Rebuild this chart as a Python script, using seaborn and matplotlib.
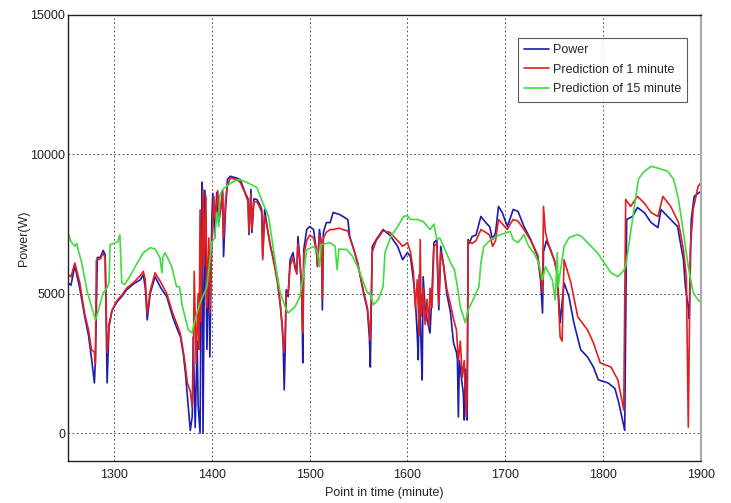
import matplotlib
matplotlib.use("Agg")
import matplotlib.pyplot as plt
import pandas as pd
import seaborn as sns

# values
power_t = [1253, 1256, 1260, 1265, 1270, 1274, 1277, 1280, 1281, 1283, 1286, 1289, 1291, 1293, 1295,
           1298, 1303, 1308, 1313, 1320, 1327, 1330, 1332, 1334, 1337, 1342, 1348, 1354, 1360, 1365,
           1368, 1371, 1373, 1376, 1378, 1380, 1381, 1383, 1385, 1386, 1388, 1389, 1390, 1391, 1393,
           1395, 1397, 1398, 1400, 1401, 1403, 1405, 1407, 1409, 1411, 1412, 1414, 1416, 1419, 1425,
           1429, 1434, 1437, 1438, 1440, 1441, 1443, 1446, 1449, 1451, 1452, 1454, 1457, 1460, 1464,
           1467, 1470, 1472, 1473, 1474, 1475, 1476, 1478, 1480, 1483, 1485, 1487, 1488, 1490, 1492,
           1493, 1494, 1497, 1500, 1504, 1507, 1508, 1510, 1512, 1513, 1514, 1517, 1521, 1524, 1530,
           1534, 1539, 1541, 1545, 1549, 1555, 1559, 1561, 1562, 1564, 1568, 1575, 1582, 1590, 1595,
           1600, 1603, 1606, 1608, 1610, 1611, 1612, 1614, 1615, 1616, 1618, 1620, 1623, 1625, 1627,
           1630, 1631, 1632, 1634, 1637, 1640, 1644, 1647, 1650, 1651, 1652, 1653, 1655, 1657, 1658,
           1659, 1660, 1661, 1662, 1663, 1666, 1670, 1675, 1680, 1684, 1687, 1690, 1693, 1697, 1702,
           1705, 1708, 1713, 1719, 1726, 1733, 1736, 1738, 1739, 1742, 1746, 1750, 1753, 1756, 1760,
           1765, 1770, 1777, 1784, 1790, 1795, 1805, 1812, 1816, 1822, 1824, 1830, 1835, 1842, 1849,
           1856, 1859, 1866, 1876, 1882, 1884, 1887, 1888, 1890, 1893, 1897, 1900]
power_w = [5400, 5300, 6000, 5200, 4200, 3500, 2700, 1800, 2600, 6300, 6300, 6550, 6400, 1800, 3900,
           4400, 4700, 4900, 5140, 5350, 5500, 5680, 5200, 4060, 5000, 5610, 5200, 4890, 4170, 3700,
           3450, 2800, 2160, 935, 100, 600, 3450, 200, 3300, 1000, 0, 5000, 9000, 0, 8700,
           3000, 6500, 2730, 7660, 8600, 7000, 8630, 7560, 8000, 8700, 6330, 8000, 9100, 9210, 9150,
           9100, 8630, 8400, 7120, 8740, 7190, 8400, 8380, 8200, 8020, 6330, 8020, 7300, 6690, 6100,
           5610, 4600, 3810, 3090, 1550, 3000, 5140, 4890, 6220, 6470, 6000, 5860, 7050, 6220, 5000,
           2520, 6580, 7300, 7410, 7300, 6500, 5970, 7300, 6800, 4420, 7190, 7550, 7550, 7910, 7850,
           7770, 7660, 7050, 6600, 6110, 5030, 4420, 3450, 2370, 6690, 6940, 7300, 7100, 6690, 6220,
           6470, 6330, 5500, 4780, 3500, 2630, 5680, 3000, 1910, 5610, 4500, 4060, 3590, 5000, 6830,
           6940, 5500, 4420, 6700, 5970, 5030, 4310, 3240, 2900, 2630, 580, 2600, 2000, 1440, 470,
           2300, 1800, 470, 6940, 6800, 7050, 7100, 7770, 7550, 7400, 6940, 7190, 8130, 7900, 7410,
           7700, 8020, 7950, 7410, 6940, 6330, 5500, 4310, 6500, 6900, 6580, 6200, 5750, 3960, 5390,
           4900, 3960, 2990, 2730, 2370, 1910, 1800, 1600, 1080, 100, 7660, 7770, 8090, 7910, 7550,
           7370, 8020, 7770, 7410, 6220, 5250, 4500, 4100, 7660, 8490, 8600, 8670]

pred1_t = [1253, 1256, 1260, 1265, 1270, 1274, 1277, 1280, 1281, 1282, 1286, 1289, 1291, 1293, 1295,
           1298, 1303, 1308, 1313, 1320, 1327, 1330, 1332, 1334, 1337, 1342, 1348, 1354, 1360, 1365,
           1368, 1371, 1373, 1375, 1378, 1380, 1381, 1382, 1384, 1386, 1387, 1388, 1389, 1390, 1391,
           1392, 1394, 1395, 1397, 1398, 1400, 1402, 1404, 1406, 1408, 1411, 1412, 1414, 1416, 1419,
           1425, 1429, 1434, 1437, 1438, 1440, 1441, 1443, 1446, 1449, 1451, 1452, 1454, 1457, 1460,
           1464, 1467, 1470, 1472, 1474, 1475, 1476, 1478, 1480, 1483, 1485, 1487, 1488, 1490, 1492,
           1493, 1494, 1497, 1500, 1504, 1507, 1508, 1510, 1512, 1513, 1514, 1517, 1521, 1524, 1530,
           1534, 1539, 1541, 1545, 1549, 1555, 1559, 1561, 1562, 1564, 1568, 1575, 1582, 1590, 1595,
           1600, 1603, 1606, 1608, 1610, 1612, 1613, 1614, 1616, 1618, 1620, 1622, 1623, 1625, 1627,
           1630, 1632, 1634, 1637, 1640, 1644, 1647, 1650, 1652, 1654, 1656, 1658, 1660, 1661, 1662,
           1666, 1670, 1675, 1680, 1684, 1687, 1690, 1693, 1697, 1702, 1705, 1708, 1713, 1719, 1726,
           1733, 1736, 1738, 1739, 1741, 1743, 1746, 1750, 1753, 1756, 1758, 1760, 1767, 1774, 1784,
           1790, 1797, 1808, 1815, 1821, 1823, 1828, 1835, 1842, 1849, 1856, 1861, 1869, 1877, 1882,
           1885, 1887, 1889, 1892, 1897, 1900]
pred1_w = [5700, 5600, 6100, 5400, 4300, 3700, 3000, 2900, 2500, 6200, 6250, 6450, 6300, 2880, 3800,
           4400, 4750, 4950, 5200, 5400, 5650, 5800, 5500, 4300, 5100, 5750, 5400, 5000, 4300, 3850,
           3550, 2900, 2400, 1800, 1500, 935, 2000, 5800, 2500, 5000, 3000, 8000, 4000, 6500, 8740,
           6000, 8500, 4500, 7000, 4310, 6800, 8500, 7600, 8700, 7800, 8600, 7000, 8300, 8900, 9150,
           9100, 9000, 8600, 8300, 7200, 8600, 7300, 8300, 8300, 8100, 7900, 6220, 7800, 7300, 6700,
           6000, 5400, 4600, 3800, 2880, 3500, 5000, 5000, 6000, 6300, 5900, 5700, 6800, 6200, 5200,
           3590, 6400, 6900, 7100, 7000, 6500, 6000, 7100, 6800, 4800, 7000, 7200, 7300, 7300, 7350,
           7300, 7250, 7000, 6600, 6100, 5100, 4500, 3800, 3340, 6500, 6900, 7250, 7200, 6900, 6700,
           6830, 6500, 5800, 4500, 5500, 3500, 6940, 4200, 5200, 3900, 4800, 3810, 5200, 4500, 6700,
           6800, 4600, 6500, 6000, 5200, 4600, 4100, 3700, 2600, 3300, 2000, 2600, 580, 1500, 6900,
           6800, 6900, 7300, 7200, 7100, 6700, 6900, 7660, 7500, 7300, 7500, 7660, 7600, 7300, 6900,
           6400, 5600, 5030, 8130, 7200, 6900, 6600, 6220, 5700, 3450, 3300, 6220, 5390, 4170, 3700,
           3240, 2520, 2370, 1910, 830, 8380, 8130, 8490, 8250, 7910, 7770, 8490, 8130, 7550, 6580,
           5610, 215, 6580, 8020, 8850, 8990]

pred15_t = [1253, 1256, 1260, 1262, 1264, 1267, 1273, 1279, 1281, 1284, 1289, 1293, 1295, 1296, 1300,
            1304, 1306, 1308, 1311, 1316, 1324, 1330, 1337, 1342, 1347, 1349, 1350, 1352, 1356, 1359,
            1364, 1367, 1370, 1376, 1380, 1382, 1388, 1395, 1400, 1403, 1405, 1407, 1408, 1411, 1415,
            1422, 1428, 1436, 1446, 1452, 1458, 1462, 1467, 1470, 1475, 1478, 1485, 1490, 1494, 1497,
            1504, 1508, 1510, 1512, 1521, 1526, 1528, 1530, 1538, 1544, 1549, 1554, 1559, 1562, 1565,
            1570, 1575, 1577, 1583, 1590, 1596, 1600, 1603, 1610, 1616, 1623, 1627, 1630, 1633, 1637,
            1644, 1648, 1651, 1654, 1659, 1662, 1667, 1673, 1675, 1678, 1685, 1695, 1705, 1708, 1713,
            1719, 1724, 1729, 1734, 1738, 1741, 1748, 1751, 1753, 1754, 1756, 1760, 1765, 1774, 1778,
            1784, 1794, 1801, 1808, 1815, 1820, 1823, 1828, 1833, 1836, 1841, 1849, 1856, 1866, 1872,
            1877, 1882, 1887, 1892, 1897, 1900]
pred15_w = [7190, 6870, 6700, 6800, 6500, 6110, 5030, 4310, 4060, 4400, 5030, 5210, 5400, 6760, 6800,
            6870, 7120, 5390, 5330, 5610, 6110, 6470, 6650, 6600, 6290, 5750, 6300, 6470, 6200, 5970,
            5250, 5250, 4530, 3700, 3590, 3960, 4670, 5250, 6830, 7000, 7910, 7400, 8490, 8740, 8850,
            9030, 9100, 8990, 8810, 8270, 7770, 6830, 5610, 5030, 4530, 4310, 4530, 4890, 5750, 6580,
            6690, 6500, 5970, 6760, 6830, 6700, 5860, 6600, 6580, 6330, 5970, 5500, 5030, 5030, 4600,
            4780, 5250, 6470, 7050, 7410, 7770, 7800, 7660, 7660, 7590, 7300, 7500, 6940, 7000, 6690,
            6110, 5860, 5250, 4530, 3960, 4420, 4780, 5250, 6110, 6690, 6940, 7120, 7230, 6940, 6830,
            7120, 6690, 6470, 6110, 5500, 5970, 5500, 4780, 6470, 5250, 5750, 6690, 7010, 7120, 7050,
            6830, 6470, 6110, 5750, 5610, 5790, 5970, 7190, 8380, 9100, 9350, 9570, 9500, 9390, 9100,
            8380, 7190, 5970, 5030, 4780, 4670]

labels = ["Power", "Prediction of 1 minute", "Prediction of 15 minute"]
colors = ["#1c1cb0", "#e02020", "#40dc40"]

df = pd.concat([
    pd.DataFrame({"t": power_t, "w": power_w, "series": labels[0]}),
    pd.DataFrame({"t": pred1_t, "w": pred1_w, "series": labels[1]}),
    pd.DataFrame({"t": pred15_t, "w": pred15_w, "series": labels[2]}),
], ignore_index=True)

sns.set_style("white")
plt.rcParams["font.family"] = ["Liberation Sans", "DejaVu Sans"]

fig = plt.figure(figsize=(7.31, 5.03), dpi=100)
ax = fig.add_axes([0.093, 0.0835, 0.866, 0.887])

sns.lineplot(data=df, x="t", y="w", hue="series", palette=dict(zip(labels, colors)),
             estimator=None, sort=False, linewidth=1.2, ax=ax)

ax.set_xlim(1253, 1900)
ax.set_ylim(-1000, 15000)
ax.set_xticks([1300, 1400, 1500, 1600, 1700, 1800, 1900])
ax.set_yticks([0, 5000, 10000, 15000])
ax.grid(True, color="black", linestyle=(0, (2, 3)), linewidth=0.6, alpha=0.8)
ax.tick_params(labelsize=9, length=0, labelcolor="#222222")
ax.tick_params(axis="y", pad=2)
ax.tick_params(axis="x", pad=6)

for side in ["left", "bottom", "top"]:
    ax.spines[side].set_color("#222222")
    ax.spines[side].set_linewidth(1.0)
ax.spines["right"].set_color("#aaaaaa")
ax.spines["right"].set_linewidth(1.5)

ax.set_xlabel("Point in time (minute)", fontsize=9)
ax.set_ylabel("Power(W)", fontsize=9)
ax.xaxis.set_label_coords(0.5, -0.058)
ax.yaxis.set_label_coords(-0.06, 0.5)

leg = ax.legend(loc="upper right", bbox_to_anchor=(0.978, 0.948), borderaxespad=0,
                fontsize=9, frameon=True, fancybox=False, handlelength=2.0,
                handletextpad=0.3, labelspacing=0.6, borderpad=0.5)
leg.get_frame().set_edgecolor("#333333")
leg.get_frame().set_linewidth(0.8)

fig.savefig("out.png", dpi=100)
